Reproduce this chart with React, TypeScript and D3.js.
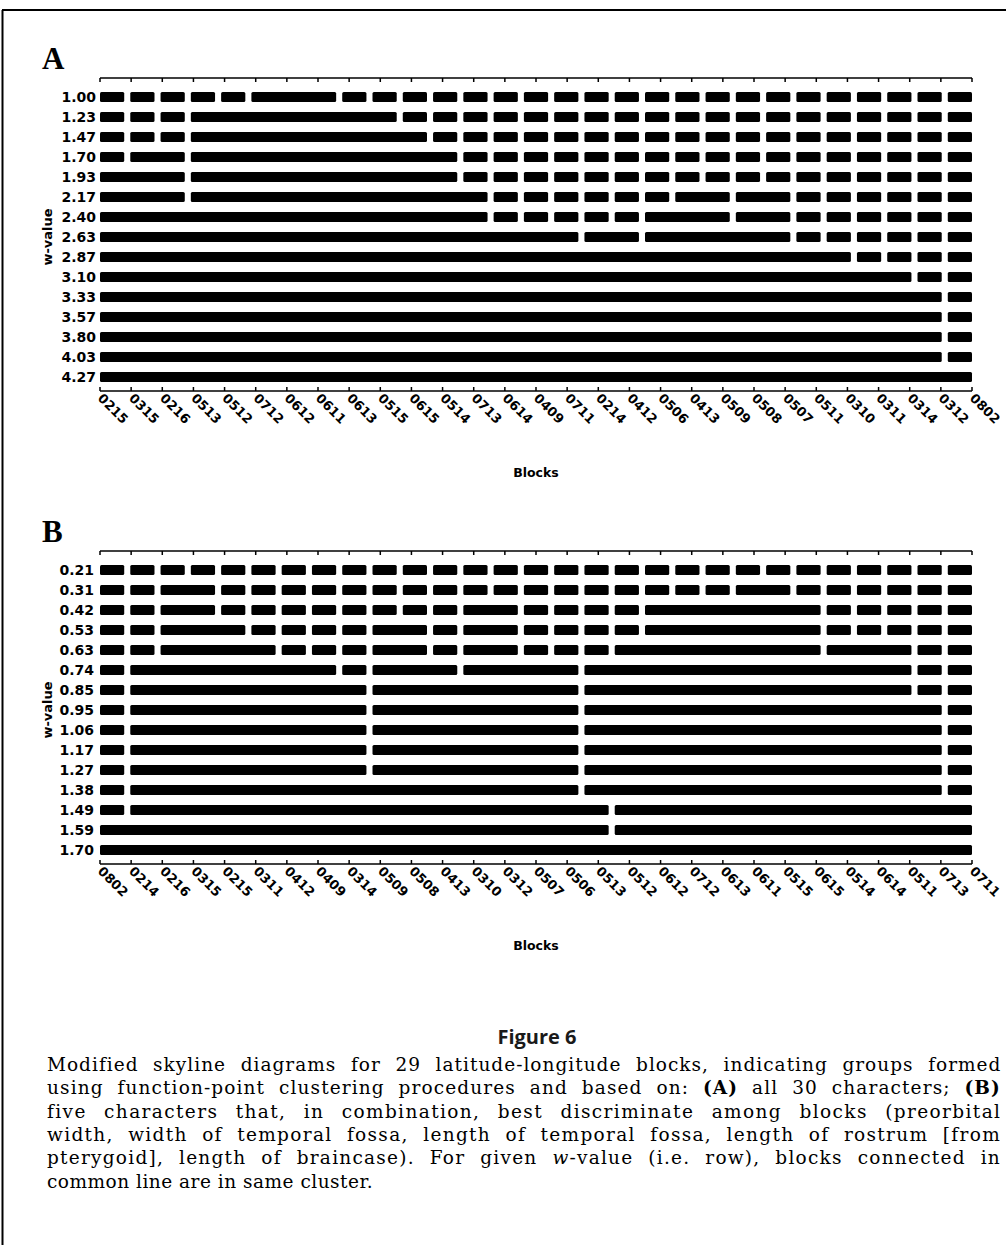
import { useEffect, useRef, useState } from "react";
import * as d3 from "d3";

// Panel A: blocks in skyline order, w-values (rows)
const BLOCKS_A = ["0215", "0315", "0216", "0513", "0512", "0712", "0612", "0611", "0613", "0515", "0615", "0514", "0713", "0614", "0409", "0711", "0214", "0412", "0506", "0413", "0509", "0508", "0507", "0511", "0310", "0311", "0314", "0312", "0802"];
const W_A = ["1.00", "1.23", "1.47", "1.70", "1.93", "2.17", "2.40", "2.63", "2.87", "3.10", "3.33", "3.57", "3.80", "4.03", "4.27"];
// runs of connected blocks per row [first, last]; any block not in a run stands alone
const RUNS_A: [number, number][][] = [
  [[5, 7]],
  [[3, 9]],
  [[3, 10]],
  [[1, 2], [3, 11]],
  [[0, 2], [3, 11]],
  [[0, 2], [3, 12], [19, 20], [21, 22]],
  [[0, 12], [18, 20], [21, 22]],
  [[0, 15], [16, 17], [18, 22]],
  [[0, 24]],
  [[0, 26]],
  [[0, 27]],
  [[0, 27]],
  [[0, 27]],
  [[0, 27]],
  [[0, 28]],
];

// Panel B
const BLOCKS_B = ["0802", "0214", "0216", "0315", "0215", "0311", "0412", "0409", "0314", "0509", "0508", "0413", "0310", "0312", "0507", "0506", "0513", "0512", "0612", "0712", "0613", "0611", "0515", "0615", "0514", "0614", "0511", "0713", "0711"];
const W_B = ["0.21", "0.31", "0.42", "0.53", "0.63", "0.74", "0.85", "0.95", "1.06", "1.17", "1.27", "1.38", "1.49", "1.59", "1.70"];
const RUNS_B: [number, number][][] = [
  [],
  [[2, 3], [21, 22]],
  [[2, 3], [12, 13], [18, 23]],
  [[2, 4], [9, 10], [12, 13], [18, 23]],
  [[2, 5], [9, 10], [12, 13], [17, 23], [24, 26]],
  [[1, 7], [9, 11], [12, 15], [16, 26]],
  [[1, 8], [9, 15], [16, 26]],
  [[1, 8], [9, 15], [16, 27]],
  [[1, 8], [9, 15], [16, 27]],
  [[1, 8], [9, 15], [16, 27]],
  [[1, 8], [9, 15], [16, 27]],
  [[1, 15], [16, 27]],
  [[1, 16], [17, 28]],
  [[0, 16], [17, 28]],
  [[0, 28]],
];

const CAPTION = [
  "Modified skyline diagrams for 29 latitude-longitude blocks, indicating groups formed",
  "using function-point clustering procedures and based on: (A) all 30 characters; (B)",
  "five characters that, in combination, best discriminate among blocks (preorbital",
  "width, width of temporal fossa, length of temporal fossa, length of rostrum [from",
  "pterygoid], length of braincase). For given w-value (i.e. row), blocks connected in",
  "common line are in same cluster.",
];

const X0 = 100;
const X1 = 972;
const SANS = "'DejaVu Sans', sans-serif";
const SERIF = "'DejaVu Serif', serif";

// split a run list into full segments covering every block
function segments(runs: [number, number][], n: number): [number, number][] {
  const out: [number, number][] = [];
  let i = 0;
  while (i < n) {
    const r = runs.find((r) => r[0] === i);
    if (r) {
      out.push(r);
      i = r[1] + 1;
    } else {
      out.push([i, i]);
      i++;
    }
  }
  return out;
}

function Panel({ letter, axisTop, blocks, ws, runs, labelX }: {
  letter: string; axisTop: number; blocks: string[]; ws: string[]; runs: [number, number][][]; labelX: number;
}) {
  const rowTop = axisTop + 19;
  const rowBottom = axisTop + 299;
  const axisBottom = axisTop + 313;

  const band = d3.scaleBand<number>().domain(d3.range(blocks.length)).range([X0, X1]).paddingInner(0.2);
  const tick = d3.scalePoint<number>().domain(d3.range(blocks.length)).range([X0, X1]);
  const y = d3.scalePoint<string>().domain(ws).range([rowTop, rowBottom]);
  const bh = 10;

  return (
    <g>
      <text x={42} y={axisTop - 9} fontFamily="'Liberation Serif', serif" fontWeight="bold" fontSize={31}>{letter}</text>

      {/* top axis */}
      <line x1={X0} x2={X1} y1={axisTop} y2={axisTop} stroke="#000" strokeWidth={1.5} />
      {tick.domain().map((i) => (
        <line key={"tt" + i} x1={tick(i)} x2={tick(i)} y1={axisTop} y2={axisTop + 4} stroke="#000" strokeWidth={1.5} />
      ))}

      {/* rows */}
      {ws.map((w, r) => (
        <g key={w}>
          <text x={labelX} y={y(w)! + 5} textAnchor="end" fontFamily={SANS} fontWeight="bold" fontSize={14}>{w}</text>
          {segments(runs[r], blocks.length).map(([a, b]) => (
            <rect
              key={a}
              x={band(a)}
              y={y(w)! - bh / 2}
              width={band(b)! + band.bandwidth() - band(a)!}
              height={bh}
              rx={1.5}
              fill="#000"
            />
          ))}
        </g>
      ))}

      <text
        transform={`translate(52,${(rowTop + rowBottom) / 2}) rotate(-90)`}
        textAnchor="middle"
        fontFamily={SANS}
        fontWeight="bold"
        fontSize={13}
      >w-value</text>

      {/* bottom axis */}
      <line x1={X0} x2={X1} y1={axisBottom} y2={axisBottom} stroke="#000" strokeWidth={1.5} />
      {tick.domain().map((i) => (
        <line key={"bt" + i} x1={tick(i)} x2={tick(i)} y1={axisBottom} y2={axisBottom - 4} stroke="#000" strokeWidth={1.5} />
      ))}
      {blocks.map((b, i) => (
        <text
          key={"bl" + i}
          transform={`translate(${tick(i)! - 3},${axisBottom + 8}) rotate(45)`}
          fontFamily={SANS}
          fontWeight="bold"
          fontSize={13}
        >{b}</text>
      ))}

      <text x={(X0 + X1) / 2} y={axisBottom + 86} textAnchor="middle" fontFamily={SANS} fontWeight="bold" fontSize={12.5}>Blocks</text>
    </g>
  );
}

function Caption({ left, right, top, step }: { left: number; right: number; top: number; step: number }) {
  const refs = useRef<(SVGTextElement | null)[]>([]);
  const [fit, setFit] = useState<{ ls: number; ws: number }[]>(CAPTION.map(() => ({ ls: 0, ws: 0 })));

  // justify every line but the last: part of the slack goes to letters, the rest to word gaps
  useEffect(() => {
    const next = CAPTION.map((line, i) => {
      const el = refs.current[i];
      if (!el || i === CAPTION.length - 1) return { ls: 0.5, ws: 0 };
      const gaps = line.split(" ").length - 1;
      const slack = right - left - el.getComputedTextLength();
      const ls = Math.max(0, (slack * 0.55) / line.length);
      const ws = Math.max(0, (slack - ls * line.length) / gaps);
      return { ls, ws };
    });
    setFit(next);
  }, [left, right]);

  return (
    <g>
      {CAPTION.map((line, i) => {
        const parts = line.split(/(\(A\)|\(B\)|\bw(?=-value))/);
        return (
          <text
            key={i}
            ref={(el) => { refs.current[i] = el; }}
            x={left}
            y={top + i * step}
            fontFamily={SERIF}
            fontSize={18.5}
            letterSpacing={fit[i].ls}
            wordSpacing={fit[i].ws}
          >
            {parts.map((p, k) =>
              p === "(A)" || p === "(B)" ? (
                <tspan key={k} fontWeight="bold">{p}</tspan>
              ) : p === "w" ? (
                <tspan key={k} fontStyle="italic">{p}</tspan>
              ) : (
                p
              )
            )}
          </text>
        );
      })}
    </g>
  );
}

export default function App() {
  useEffect(() => {
    document.body.style.margin = "0";
  }, []);

  return (
    <svg width={1006} height={1245} style={{ display: "block", background: "#fff" }}>
      {/* page frame */}
      <line x1={2} x2={1006} y1={10} y2={10} stroke="#000" strokeWidth={2} />
      <line x1={2.5} x2={2.5} y1={10} y2={1245} stroke="#000" strokeWidth={2} />

      <Panel letter="A" axisTop={78} blocks={BLOCKS_A} ws={W_A} runs={RUNS_A} labelX={96} />
      <Panel letter="B" axisTop={551} blocks={BLOCKS_B} ws={W_B} runs={RUNS_B} labelX={94} />

      <text x={537} y={1044} textAnchor="middle" fontFamily="'Open Sans', sans-serif" fontWeight="bold" fontSize={20} fill="#1a1a1a">Figure 6</text>

      <Caption left={47} right={1001} top={1071} step={23.3} />
    </svg>
  );
}
